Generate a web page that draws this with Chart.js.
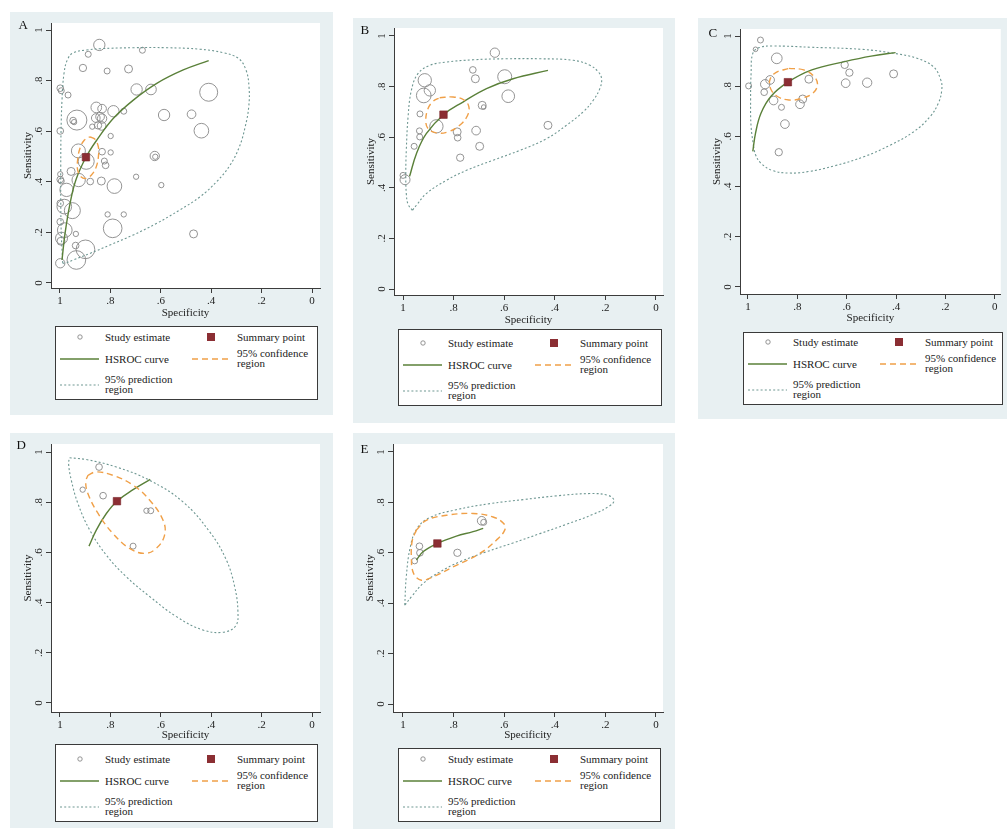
<!DOCTYPE html>
<html><head><meta charset="utf-8">
<script src="https://cdn.jsdelivr.net/npm/chart.js@4.4.1/dist/chart.umd.min.js"></script>
<style>
html,body{margin:0;padding:0;width:1007px;height:830px;overflow:hidden;background:#fff;font-family:"Liberation Serif","Times New Roman",serif;}
.bg{position:absolute;background:#e8f0f2;}
canvas{position:absolute;}
.lg{position:absolute;background:#fff;border:1px solid #3a3a3a;box-sizing:border-box;}
.lg svg{position:absolute;left:-1px;top:-1px;}
.t{position:absolute;font-size:11px;line-height:11px;color:#222;white-space:nowrap;}
.letter{position:absolute;font-size:13px;line-height:15px;color:#111;}
</style></head><body>
<script>
// ---- shared labels ----
const tickValues = [0, 0.2, 0.4, 0.6, 0.8, 1];
const tickLabels = ["0", ".2", ".4", ".6", ".8", "1"];
const xTitle = "Specificity";
const yTitle = "Sensitivity";
const legendTexts = [["Study estimate"], ["Summary point"], ["HSROC curve"], ["95% confidence", "region"], ["95% prediction", "region"]];
const panelLetters = ["A", "B", "C", "D", "E"];

// ---- Panel A ----
const A_studySpec = [0.844,0.888,0.673,0.909,0.813,0.728,0.999,0.995,0.968,0.696,0.639,0.410,0.856,0.833,0.788,0.747,0.933,0.948,0.944,0.858,0.841,0.833,0.872,0.849,0.835,0.587,0.478,0.439,0.999,0.799,0.927,0.896,0.833,0.799,0.824,0.819,0.624,0.622,0.956,0.999,0.999,0.995,0.926,0.880,0.836,0.698,0.784,0.598,0.974,0.999,0.983,0.951,0.811,0.747,0.999,0.981,0.791,0.470,0.937,0.994,0.996,0.938,0.899,0.935,0.999];
const A_studySens = [0.941,0.904,0.920,0.850,0.838,0.846,0.770,0.760,0.743,0.765,0.765,0.754,0.694,0.689,0.679,0.679,0.644,0.642,0.636,0.652,0.657,0.650,0.618,0.623,0.621,0.664,0.667,0.602,0.601,0.581,0.522,0.481,0.519,0.516,0.482,0.465,0.502,0.499,0.441,0.430,0.409,0.403,0.407,0.401,0.403,0.420,0.383,0.387,0.368,0.315,0.302,0.286,0.271,0.271,0.242,0.209,0.216,0.194,0.194,0.177,0.165,0.148,0.133,0.091,0.078];
const A_studyWeight = [17,9,9,11,9,12,10,9,9,17,16,27,16,13,17,9,30,10,8,13,13,14,8,11,13,17,13,22,10,8,21,24,10,8,9,10,14,8,12,8,10,9,20,10,12,8,22,8,20,10,22,24,8,8,10,22,28,12,8,18,12,10,28,28,14];
const A_summary = [0.897, 0.497];
const A_hsrocSpec = [0.992,0.980,0.960,0.937,0.897,0.854,0.788,0.709,0.616,0.511,0.410];
const A_hsrocSens = [0.091,0.196,0.315,0.407,0.497,0.565,0.651,0.723,0.789,0.842,0.879];
const A_confSpec = [0.881,0.861,0.848,0.847,0.854,0.870,0.894,0.917,0.930,0.930,0.921,0.903];
const A_confSens = [0.578,0.568,0.539,0.506,0.466,0.433,0.414,0.420,0.447,0.486,0.532,0.565];
const A_predSpec = [0.989,0.995,0.997,0.997,0.996,0.992,0.984,0.970,0.947,0.894,0.841,0.709,0.577,0.444,0.352,0.292,0.262,0.250,0.251,0.265,0.288,0.325,0.378,0.444,0.524,0.616,0.709,0.802,0.881,0.947,0.980];
const A_predSens = [0.078,0.196,0.328,0.460,0.592,0.723,0.829,0.884,0.910,0.921,0.926,0.930,0.930,0.924,0.910,0.888,0.842,0.776,0.697,0.618,0.539,0.466,0.401,0.341,0.289,0.236,0.190,0.150,0.117,0.091,0.078];

// ---- Panel B ----
const B_studySpec = [0.637,0.724,0.714,0.914,0.598,0.894,0.918,0.584,0.933,0.687,0.681,0.868,0.935,0.934,0.786,0.784,0.711,0.956,0.697,0.774,0.427,1.000,0.992];
const B_studySens = [0.934,0.866,0.831,0.825,0.839,0.785,0.765,0.762,0.692,0.726,0.719,0.643,0.625,0.601,0.621,0.598,0.626,0.564,0.564,0.519,0.647,0.449,0.432];
const B_studyWeight = [14,10,12,20,21,17,22,19,9,12,7,20,9,9,12,10,13,9,12,11,12,9,15];
const B_summary = [0.840, 0.689];
const B_hsrocSpec = [0.974,0.947,0.908,0.840,0.763,0.670,0.565,0.427];
const B_hsrocSens = [0.445,0.535,0.614,0.689,0.739,0.792,0.831,0.864];
const B_confSpec = [0.855,0.802,0.760,0.740,0.745,0.776,0.822,0.868,0.901,0.910,0.901,0.881];
const B_confSens = [0.756,0.759,0.748,0.722,0.686,0.647,0.621,0.617,0.634,0.667,0.713,0.742];
const B_predSpec = [0.963,0.980,0.987,0.989,0.987,0.980,0.967,0.941,0.894,0.828,0.723,0.591,0.459,0.327,0.261,0.228,0.215,0.222,0.248,0.288,0.354,0.433,0.538,0.644,0.749,0.828,0.908,0.947];
const B_predSens = [0.311,0.335,0.377,0.456,0.548,0.680,0.785,0.851,0.884,0.897,0.906,0.910,0.910,0.904,0.884,0.858,0.831,0.792,0.746,0.700,0.647,0.594,0.548,0.509,0.469,0.430,0.377,0.331];

// ---- Panel C ----
const C_studySpec = [0.949,0.969,0.883,0.997,0.930,0.910,0.934,0.896,0.864,0.850,0.875,0.789,0.778,0.753,0.608,0.589,0.604,0.517,0.410];
const C_studySens = [0.984,0.947,0.911,0.801,0.808,0.825,0.776,0.743,0.716,0.649,0.537,0.728,0.749,0.828,0.885,0.854,0.812,0.814,0.849];
const C_studyWeight = [9,7,16,9,14,13,10,13,9,13,11,13,12,12,11,11,13,14,12];
const C_summary = [0.838, 0.816];
const C_hsrocSpec = [0.980,0.969,0.947,0.907,0.838,0.741,0.608,0.501,0.402];
const C_hsrocSens = [0.540,0.613,0.692,0.759,0.816,0.865,0.898,0.920,0.934];
const C_confSpec = [0.834,0.774,0.734,0.718,0.734,0.781,0.834,0.880,0.907,0.911,0.887];
const C_confSens = [0.871,0.865,0.841,0.809,0.775,0.752,0.745,0.759,0.788,0.825,0.854];
const C_predSpec = [0.977,0.987,0.989,0.987,0.980,0.953,0.900,0.741,0.541,0.408,0.315,0.249,0.219,0.215,0.229,0.262,0.328,0.422,0.528,0.648,0.754,0.834,0.900,0.947,0.969];
const C_predSens = [0.560,0.639,0.745,0.851,0.931,0.954,0.960,0.955,0.947,0.931,0.911,0.878,0.825,0.785,0.732,0.679,0.619,0.566,0.520,0.483,0.460,0.454,0.464,0.493,0.527];

// ---- Panel D ----
const D_studySpec = [0.845,0.910,0.829,0.657,0.640,0.710];
const D_studySens = [0.940,0.850,0.826,0.766,0.766,0.625];
const D_studyWeight = [10,8,10,8,9,9];
const D_summary = [0.774, 0.804];
const D_hsrocSpec = [0.885,0.856,0.816,0.774,0.710,0.642];
const D_hsrocSens = [0.625,0.689,0.755,0.804,0.850,0.891];
const D_confSpec = [0.889,0.856,0.790,0.710,0.644,0.591,0.585,0.618,0.664,0.724,0.790,0.849,0.889,0.898];
const D_confSens = [0.907,0.921,0.907,0.868,0.808,0.728,0.669,0.616,0.596,0.616,0.675,0.755,0.834,0.881];
const D_predSpec = [0.962,0.896,0.776,0.644,0.512,0.406,0.340,0.307,0.294,0.303,0.353,0.433,0.538,0.644,0.737,0.816,0.882,0.929,0.955,0.966];
const D_predSens = [0.977,0.970,0.940,0.887,0.801,0.682,0.570,0.464,0.364,0.307,0.282,0.291,0.344,0.424,0.503,0.589,0.689,0.795,0.887,0.954];

// ---- Panel E ----
const E_studySpec = [0.689,0.681,0.935,0.933,0.954,0.785];
const E_studySens = [0.727,0.721,0.626,0.600,0.568,0.600];
const E_studyWeight = [13,9,10,10,9,11];
const E_summary = [0.864, 0.637];
const E_hsrocSpec = [0.947,0.921,0.864,0.789,0.723,0.683];
const E_hsrocSens = [0.571,0.604,0.637,0.666,0.684,0.697];
const E_confSpec = [0.947,0.908,0.828,0.723,0.644,0.602,0.598,0.631,0.697,0.802,0.881,0.927,0.958,0.967,0.963];
const E_confSens = [0.690,0.729,0.749,0.756,0.742,0.716,0.690,0.650,0.597,0.544,0.505,0.491,0.518,0.584,0.650];
const E_predSpec = [0.993,0.987,0.971,0.945,0.894,0.789,0.657,0.525,0.393,0.261,0.189,0.166,0.185,0.248,0.354,0.459,0.565,0.670,0.776,0.855,0.921,0.967];
const E_predSens = [0.392,0.505,0.624,0.696,0.740,0.771,0.795,0.811,0.826,0.835,0.828,0.808,0.785,0.753,0.713,0.676,0.639,0.604,0.564,0.524,0.478,0.425];

// ---- layout (positions only) ----
const panels = [
  {letter:0, bg:{l:10,t:12,r:333,b:415}, plot:{l:51,t:23,r:320,b:288}, xr:[-0.0317,1.0357], yr:[-0.0198,1.0277], xTitleY:313, leg:{l:55,t:326,w:263,h:74}, let:[23,25],
   d:{ss:A_studySpec,se:A_studySens,sw:A_studyWeight,sum:A_summary,hs:A_hsrocSpec,he:A_hsrocSens,cs:A_confSpec,ce:A_confSens,ps:A_predSpec,pe:A_predSens}},
  {letter:1, bg:{l:353,t:18,r:675,b:423}, plot:{l:394,t:28,r:663,b:295}, xr:[-0.0277,1.0356], yr:[-0.0237,1.0316], xTitleY:320, leg:{l:398,t:329,w:264,h:77}, let:[365,30],
   d:{ss:B_studySpec,se:B_studySens,sw:B_studyWeight,sum:B_summary,hs:B_hsrocSpec,he:B_hsrocSens,cs:B_confSpec,ce:B_confSens,ps:B_predSpec,pe:B_predSens}},
  {letter:2, bg:{l:698,t:18,r:1007,b:419}, plot:{l:740,t:29,r:1005,b:294}, xr:[-0.0239,1.0319], yr:[-0.0279,1.0279], xTitleY:318, leg:{l:743,t:332,w:260,h:73}, let:[713,33],
   d:{ss:C_studySpec,se:C_studySens,sw:C_studyWeight,sum:C_summary,hs:C_hsrocSpec,he:C_hsrocSens,cs:C_confSpec,ce:C_confSens,ps:C_predSpec,pe:C_predSens}},
  {letter:3, bg:{l:10,t:433,r:333,b:828}, plot:{l:51,t:444,r:320,b:712}, xr:[-0.0317,1.0357], yr:[-0.0359,1.0319], xTitleY:735, leg:{l:55,t:744,w:263,h:78}, let:[21,445],
   d:{ss:D_studySpec,se:D_studySens,sw:D_studyWeight,sum:D_summary,hs:D_hsrocSpec,he:D_hsrocSens,cs:D_confSpec,ce:D_confSens,ps:D_predSpec,pe:D_predSens}},
  {letter:4, bg:{l:353,t:433,r:675,b:829}, plot:{l:393,t:444,r:663,b:712}, xr:[-0.0277,1.0395], yr:[-0.0317,1.0317], xTitleY:735, leg:{l:398,t:748,w:263,h:74}, let:[365,449],
   d:{ss:E_studySpec,se:E_studySens,sw:E_studyWeight,sum:E_summary,hs:E_hsrocSpec,he:E_hsrocSens,cs:E_confSpec,ce:E_confSens,ps:E_predSpec,pe:E_predSens}}
];

const COL = {circle:'#888888', red:'#8b2e33', green:'#5a8039', orange:'#f0a048', pred:'#6e9792', axis:'#3c3c3c', text:'#222'};
const FONT = {family:'"Liberation Serif","Times New Roman",serif', size:11};

const whiteArea = {
  id:'whiteArea',
  beforeDraw(chart){
    const a = chart.chartArea, ctx = chart.ctx;
    ctx.save(); ctx.fillStyle = '#fff';
    ctx.fillRect(a.left, a.top, a.right - a.left, a.bottom - a.top);
    ctx.restore();
  }
};

function pts(xs, ys){ return xs.map((x,i)=>({x:x, y:ys[i]})); }
function closed(xs, ys){ const p = pts(xs, ys); p.push({x:xs[0], y:ys[0]}); return p; }

function el(tag, cls, style){ const e=document.createElement(tag); if(cls) e.className=cls; if(style) Object.assign(e.style, style); return e; }

function makeLegend(L){
  const box = el('div','lg',{left:L.l+'px',top:L.t+'px',width:L.w+'px',height:L.h+'px'});
  const dy = L.h - 74;
  box.innerHTML =
    `<svg width="${L.w}" height="${L.h}">
      <circle cx="25" cy="${11+dy}" r="2.2" fill="none" stroke="${COL.circle}" stroke-width="0.9"/>
      <rect x="152" y="${7+dy}" width="8" height="8" fill="${COL.red}"/>
      <line x1="5" x2="44" y1="${33+dy}" y2="${33+dy}" stroke="${COL.green}" stroke-width="1.4"/>
      <line x1="137" x2="175" y1="${33+dy}" y2="${33+dy}" stroke="${COL.orange}" stroke-width="1.4" stroke-dasharray="6 4"/>
      <line x1="5" x2="44" y1="${59+dy}" y2="${59+dy}" stroke="${COL.pred}" stroke-width="1.1" stroke-dasharray="2 2.2"/>
    </svg>`;
  const place = [[50,11],[182,11],[50,33],[182,27],[50,53]];
  legendTexts.forEach((lines, i)=>{
    lines.forEach((txt, j)=>{
      const t = el('div','t',{left:(place[i][0]-1)+'px', top:(place[i][1]+dy-6.5+j*10.5)+'px'});
      t.textContent = txt; box.appendChild(t);
    });
  });
  document.body.appendChild(box);
}

function makePanel(p){
  const bg = el('div','bg',{left:p.bg.l+'px',top:p.bg.t+'px',width:(p.bg.r-p.bg.l)+'px',height:(p.bg.b-p.bg.t)+'px'});
  document.body.appendChild(bg);
  const cw = p.bg.r - p.bg.l, ch = p.xTitleY + 9 - p.bg.t;
  const cv = el('canvas', null, {left:p.bg.l+'px', top:p.bg.t+'px', width:cw+'px', height:ch+'px'});
  cv.width = cw; cv.height = ch;
  document.body.appendChild(cv);
  const yW = p.plot.l - p.bg.l;
  const xH = ch - (p.plot.b - p.bg.t);
  const d = p.d;
  const commonGrid = {drawOnChartArea:false, drawTicks:true, tickLength:5, color:COL.axis, lineWidth:1};
  const commonBorder = {display:true, color:COL.axis, width:1};
  new Chart(cv, {
    type:'scatter',
    data:{datasets:[
      {type:'bubble', label:'Study estimate', data:d.ss.map((s,i)=>({x:s, y:d.se[i], r:d.sw[i]/3})),
       backgroundColor:'rgba(0,0,0,0)', borderColor:COL.circle, borderWidth:0.9, hoverRadius:0, order:4},
      {label:'95% prediction region', data:closed(d.ps, d.pe), showLine:true, borderColor:COL.pred, borderWidth:1.1,
       borderDash:[2,2.2], pointRadius:0, tension:0.4, fill:false, order:3},
      {label:'HSROC curve', data:pts(d.hs, d.he), showLine:true, borderColor:COL.green, borderWidth:1.4,
       pointRadius:0, tension:0.4, fill:false, order:2},
      {label:'95% confidence region', data:closed(d.cs, d.ce), showLine:true, borderColor:COL.orange, borderWidth:1.4,
       borderDash:[6,4], pointRadius:0, tension:0.4, fill:false, order:1},
      {label:'Summary point', data:[{x:d.sum[0], y:d.sum[1]}], pointStyle:'rect', pointRadius:5.3,
       backgroundColor:COL.red, borderColor:'#7a2329', borderWidth:0.6, order:0}
    ]},
    options:{
      responsive:false, animation:false, events:[],
      layout:{padding:{top:p.plot.t-p.bg.t, right:p.bg.r-p.plot.r, left:0, bottom:0}},
      plugins:{legend:{display:false}, tooltip:{enabled:false}},
      scales:{
        x:{type:'linear', position:'bottom', reverse:true, min:p.xr[0], max:p.xr[1],
           afterBuildTicks:s=>{ s.ticks = tickValues.map(v=>({value:v})); },
           afterFit:s=>{ s.height = xH; },
           ticks:{callback:(v,i)=>tickLabels[i], font:FONT, color:COL.text, padding:2, autoSkip:false, maxRotation:0, minRotation:0},
           grid:commonGrid, border:commonBorder,
           title:{display:true, text:xTitle, font:FONT, color:COL.text, padding:{top:0, bottom:2.4}}},
        y:{type:'linear', position:'left', min:p.yr[0], max:p.yr[1],
           afterBuildTicks:s=>{ s.ticks = tickValues.map(v=>({value:v})); },
           afterFit:s=>{ s.width = yW; },
           ticks:{callback:(v,i)=>tickLabels[i], font:FONT, color:COL.text, padding:3, autoSkip:false, minRotation:90, maxRotation:90, crossAlign:'center'},
           grid:commonGrid, border:commonBorder,
           title:{display:true, text:yTitle, font:FONT, color:COL.text, padding:{top:(yW-22.5)-6.6, bottom:0}}}
      }
    },
    plugins:[whiteArea]
  });
  makeLegend(p.leg);
  const L = el('div','letter',{left:(p.let[0]-4.5)+'px', top:(p.let[1]-8)+'px'});
  L.textContent = panelLetters[p.letter];
  document.body.appendChild(L);
}

panels.forEach(makePanel);
</script>
</body></html>
